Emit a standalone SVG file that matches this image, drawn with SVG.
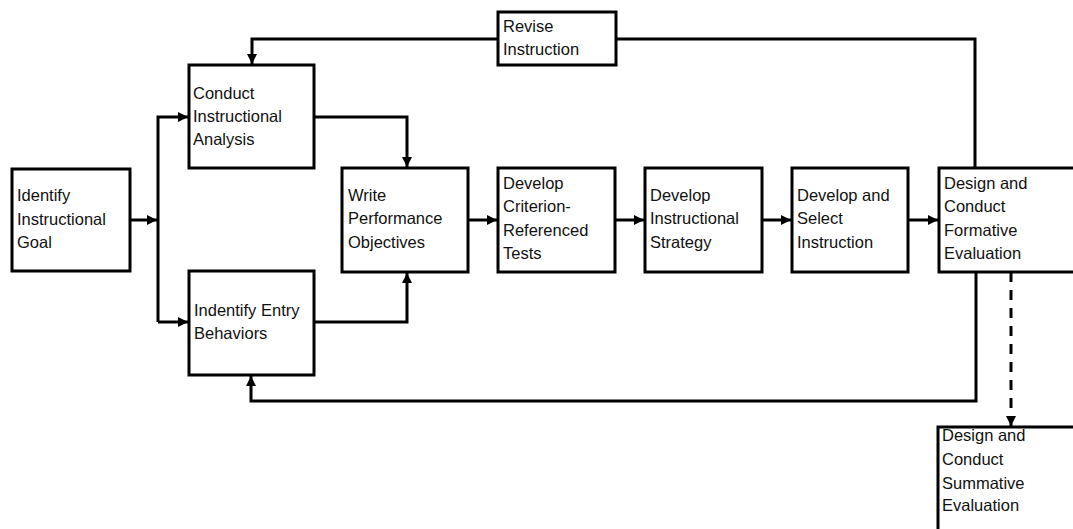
<svg xmlns="http://www.w3.org/2000/svg" width="1073" height="529" viewBox="0 0 1073 529">
<style>
.box{fill:#fff;stroke:#000;stroke-width:3}
.t{font-family:"Liberation Sans",Arial,sans-serif;font-size:16.5px;fill:#111}
.c{fill:none;stroke:#000;stroke-width:3}
.d{stroke-dasharray:10 8}
</style>
<defs>
<marker id="ah" viewBox="0 0 10 10" refX="10" refY="5" markerWidth="10" markerHeight="10" markerUnits="userSpaceOnUse" orient="auto">
<path d="M0,0 L10,5 L0,10 z" fill="#000"/>
</marker>
</defs>
<rect width="1073" height="529" fill="#fff"/>
<g id="connectors">
<path class="c" d="M130,220 H157" marker-end="url(#ah)"/>
<path class="c" d="M158,322 V117 H188" marker-end="url(#ah)"/>
<path class="c" d="M158,322 H188" marker-end="url(#ah)"/>
<path class="c" d="M314,117 H407 V167" marker-end="url(#ah)"/>
<path class="c" d="M314,322 H407 V273" marker-end="url(#ah)"/>
<path class="c" d="M468,220 H497" marker-end="url(#ah)"/>
<path class="c" d="M615,220 H644" marker-end="url(#ah)"/>
<path class="c" d="M762,220 H791" marker-end="url(#ah)"/>
<path class="c" d="M908,220 H938" marker-end="url(#ah)"/>
<path class="c" d="M975,168 V39 H616"/>
<path class="c" d="M498,39 H252 V64" marker-end="url(#ah)"/>
<path class="c" d="M976,272 V401 H251 V376" marker-end="url(#ah)"/>
<path class="c d" d="M1011,272 V426" marker-end="url(#ah)"/>
</g>
<g id="goal">
<rect class="box" x="12" y="169" width="118" height="102"/>
<text class="t" x="17" y="201">Identify</text>
<text class="t" x="17" y="225">Instructional</text>
<text class="t" x="17" y="248">Goal</text>
</g>
<g id="analysis">
<rect class="box" x="189" y="65" width="125" height="103"/>
<text class="t" x="193" y="99">Conduct</text>
<text class="t" x="193" y="122">Instructional</text>
<text class="t" x="193" y="145">Analysis</text>
</g>
<g id="entry">
<rect class="box" x="189" y="271" width="125" height="104"/>
<text class="t" x="194" y="316">Indentify Entry</text>
<text class="t" x="194" y="339">Behaviors</text>
</g>
<g id="objectives">
<rect class="box" x="342" y="168" width="126" height="104"/>
<text class="t" x="348" y="201">Write</text>
<text class="t" x="348" y="224">Performance</text>
<text class="t" x="348" y="248">Objectives</text>
</g>
<g id="tests">
<rect class="box" x="498" y="168" width="117" height="104"/>
<text class="t" x="503" y="189">Develop</text>
<text class="t" x="503" y="212">Criterion-</text>
<text class="t" x="503" y="236">Referenced</text>
<text class="t" x="503" y="259">Tests</text>
</g>
<g id="revise">
<rect class="box" x="498" y="12" width="118" height="53"/>
<text class="t" x="503" y="32">Revise</text>
<text class="t" x="503" y="55">Instruction</text>
</g>
<g id="strategy">
<rect class="box" x="645" y="168" width="117" height="104"/>
<text class="t" x="650" y="201">Develop</text>
<text class="t" x="650" y="224">Instructional</text>
<text class="t" x="650" y="248">Strategy</text>
</g>
<g id="select">
<rect class="box" x="792" y="168" width="116" height="104"/>
<text class="t" x="797" y="201">Develop and</text>
<text class="t" x="797" y="224">Select</text>
<text class="t" x="797" y="248">Instruction</text>
</g>
<g id="formative">
<rect class="box" x="939" y="168" width="140" height="104"/>
<text class="t" x="944" y="189">Design and</text>
<text class="t" x="944" y="212">Conduct</text>
<text class="t" x="944" y="236">Formative</text>
<text class="t" x="944" y="259">Evaluation</text>
</g>
<g id="summative">
<rect class="box" x="938" y="427" width="140" height="110"/>
<text class="t" x="942" y="441">Design and</text>
<text class="t" x="942" y="465">Conduct</text>
<text class="t" x="942" y="489">Summative</text>
<text class="t" x="942" y="511">Evaluation</text>
</g>
</svg>
